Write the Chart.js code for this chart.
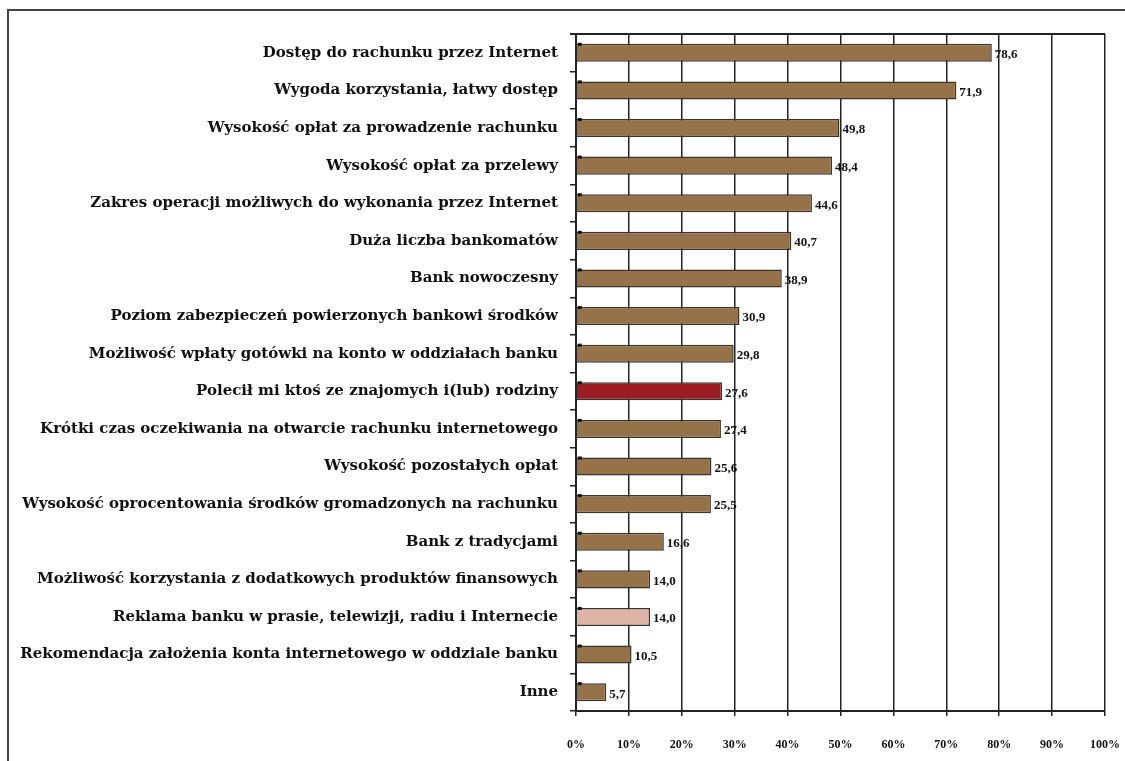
<!DOCTYPE html>
<html>
<head>
<meta charset="utf-8">
<script src="https://cdn.jsdelivr.net/npm/chart.js@4.4.1/dist/chart.umd.min.js"></script>
<style>
  html, body { margin: 0; padding: 0; background: #fff; overflow: hidden; }
  #frame { position: absolute; left: 7px; top: 9px; width: 1300px; height: 900px; border: 2px solid #444; }
  #wrap { position: absolute; left: 0; top: 0; width: 1142px; height: 761px; }
</style>
</head>
<body>
<div id="frame"></div>
<div id="wrap"><canvas id="reasonsChart" width="1142" height="761"></canvas></div>
<script>
const categories = [
  "Dostęp do rachunku przez Internet",
  "Wygoda korzystania, łatwy dostęp",
  "Wysokość opłat za prowadzenie rachunku",
  "Wysokość opłat za przelewy",
  "Zakres operacji możliwych do wykonania przez Internet",
  "Duża liczba bankomatów",
  "Bank nowoczesny",
  "Poziom zabezpieczeń powierzonych bankowi środków",
  "Możliwość wpłaty gotówki na konto w oddziałach banku",
  "Polecił mi ktoś ze znajomych i(lub) rodziny",
  "Krótki czas oczekiwania na otwarcie rachunku internetowego",
  "Wysokość pozostałych opłat",
  "Wysokość oprocentowania środków gromadzonych na rachunku",
  "Bank z tradycjami",
  "Możliwość korzystania z dodatkowych produktów finansowych",
  "Reklama banku w prasie, telewizji, radiu i Internecie",
  "Rekomendacja założenia konta internetowego w oddziale banku",
  "Inne"
];
const shares = [78.6, 71.9, 49.8, 48.4, 44.6, 40.7, 38.9, 30.9, 29.8, 27.6, 27.4, 25.6, 25.5, 16.6, 14.0, 14.0, 10.5, 5.7];
const xTicks = [0, 10, 20, 30, 40, 50, 60, 70, 80, 90, 100];

const SERIF = '"Liberation Serif", "DejaVu Serif", serif';
const LABEL_SERIF = '"DejaVu Serif", "Liberation Serif", serif';
const barColors = categories.map((c, i) => i === 9 ? '#9b1c22' : i === 15 ? '#deb4a6' : '#957248');

// value labels, little markers at bar start, and the top frame line
const decorations = {
  id: 'decorations',
  afterDatasetsDraw(chart) {
    const ctx = chart.ctx;
    const area = chart.chartArea;
    ctx.save();
    ctx.strokeStyle = '#222';
    ctx.lineWidth = 2;
    ctx.beginPath();
    ctx.moveTo(area.left - 6, area.top);
    ctx.lineTo(area.right, area.top);
    ctx.stroke();

    ctx.font = 'bold 13px ' + SERIF;
    ctx.fillStyle = '#111';
    ctx.textBaseline = 'middle';
    chart.getDatasetMeta(0).data.forEach((bar, i) => {
      const top = bar.y - bar.height / 2;
      ctx.fillRect(bar.base + 1, top - 1, 4, 3);
      ctx.fillText(shares[i].toFixed(1).replace('.', ','), bar.x + 3, bar.y + 2);
    });
    ctx.restore();
  }
};

new Chart(document.getElementById('reasonsChart'), {
  type: 'bar',
  data: {
    labels: categories,
    datasets: [{
      data: shares,
      backgroundColor: barColors,
      borderColor: '#3a3329',
      borderWidth: 1.5,
      barPercentage: 0.48,
      categoryPercentage: 1
    }]
  },
  options: {
    indexAxis: 'y',
    responsive: false,
    animation: false,
    layout: { padding: { top: 34, right: 4, left: 0, bottom: 0 } },
    plugins: {
      legend: { display: false },
      tooltip: { enabled: false }
    },
    scales: {
      x: {
        min: 0,
        max: 100,
        afterBuildTicks(scale) { scale.ticks = xTicks.map(v => ({ value: v })); },
        afterFit(scale) { scale.height = 50; },
        ticks: {
          callback: v => v + '%',
          color: '#111',
          padding: 22,
          maxRotation: 0,
          font: { family: SERIF, size: 12, weight: 'bold' }
        },
        grid: { color: '#222', lineWidth: 1.5, tickLength: 5 },
        border: { color: '#222', width: 2 }
      },
      y: {
        afterFit(scale) { scale.width = 576; },
        ticks: {
          color: '#111',
          padding: 12,
          font: { family: LABEL_SERIF, size: 15, weight: 'bold' }
        },
        grid: { drawOnChartArea: false, color: '#222', lineWidth: 1.5, tickLength: 6, offset: true },
        border: { color: '#222', width: 2 }
      }
    }
  },
  plugins: [decorations]
});
</script>
</body>
</html>
